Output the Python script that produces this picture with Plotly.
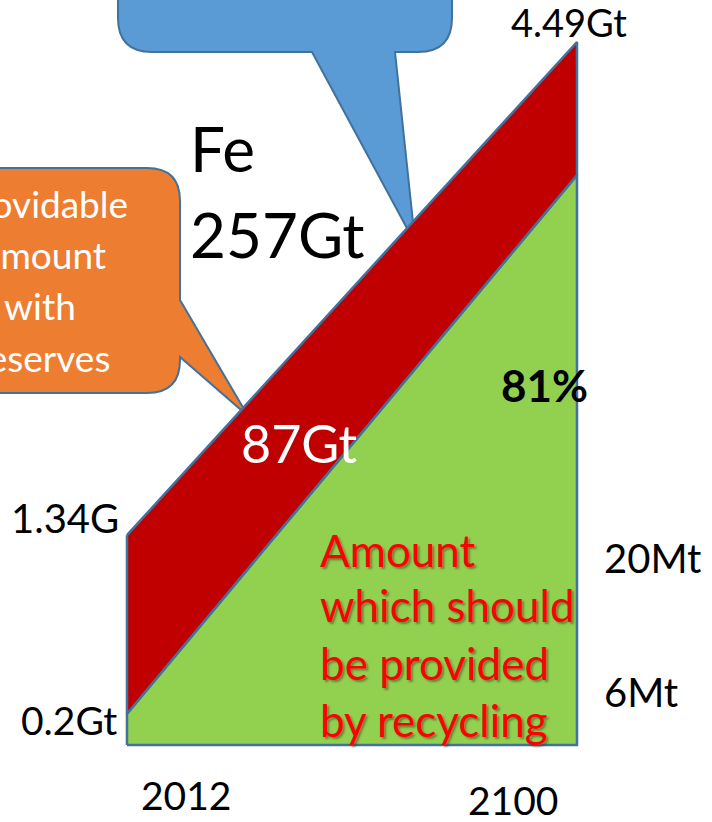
import plotly.graph_objects as go

# ---------------- data ----------------
years = [2012, 2100]
demand_gt = [1.34, 4.49]        # total iron demand edge
recycling_gt = [0.2, 3.64]      # amount to be provided by recycling (81% in 2100)
base_gt = [0.0, 0.0]

year_labels = ["2012", "2100"]
demand_labels = ["1.34G", "4.49Gt"]
recycling_labels = ["0.2Gt", "81%"]
side_labels = ["20Mt", "6Mt"]
title_lines = ["Fe", "257Gt"]
cumulative_label = "87Gt"
recycling_text = ["Amount", "which should", "be provided", "by recycling"]
reserve_text = ["Providable", "amount", "with", "reserves"]

W, H = 712, 822
FONT = "Lato"

RED = "#C00000"
GREEN = "#92D050"
BLUE = "#5B9BD5"
ORANGE = "#ED7D31"
EDGE = "#41719C"


def P(px, py):
    return f"{px / W:.5f},{1 - py / H:.5f}"


fig = go.Figure()

# green area (recycling)
fig.add_trace(go.Scatter(
    x=[years[0], years[0], years[1], years[1], years[0]],
    y=[base_gt[0], recycling_gt[0], recycling_gt[1], base_gt[1], base_gt[0]],
    mode="lines", fill="toself", fillcolor=GREEN,
    line=dict(color=EDGE, width=2.5), hoverinfo="skip", showlegend=False))

# red area (from reserves)
fig.add_trace(go.Scatter(
    x=[years[0], years[1], years[1], years[0], years[0]],
    y=[demand_gt[0], demand_gt[1], recycling_gt[1], recycling_gt[0], demand_gt[0]],
    mode="lines", fill="toself", fillcolor=RED,
    line=dict(color=EDGE, width=2.5), hoverinfo="skip", showlegend=False))

# callout shapes (decorations, below the data)
blue_path = ("M " + P(118, -40) + " L " + P(452, -40) + " L " + P(452, 18) +
             " Q " + P(452, 52) + " " + P(418, 52) + " L " + P(395, 52) +
             " L " + P(414, 232) + " L " + P(409, 232) + " L " + P(312, 52) +
             " L " + P(152, 52) + " Q " + P(118, 52) + " " + P(118, 18) + " Z")
orange_path = ("M " + P(-60, 168) + " L " + P(147, 168) + " Q " + P(180, 168) + " " + P(180, 201) +
               " L " + P(180, 300) + " L " + P(248, 416) + " L " + P(180, 357) +
               " L " + P(180, 360) + " Q " + P(180, 393) + " " + P(147, 393) +
               " L " + P(-60, 393) + " Z")
shapes = [
    dict(type="path", path=blue_path, xref="paper", yref="paper",
         fillcolor=BLUE, line=dict(color=EDGE, width=2), layer="below"),
    dict(type="path", path=orange_path, xref="paper", yref="paper",
         fillcolor=ORANGE, line=dict(color=EDGE, width=2), layer="below"),
]

annotations = []


def A(text, px, baseline, size, color="black", xanchor="center", bold=False,
      shadow=None):
    mid = baseline - 0.387 * size
    font = dict(family=FONT, size=size, color=color)
    if shadow:
        font["shadow"] = shadow
    annotations.append(dict(
        text=f"<b>{text}</b>" if bold else text,
        x=px / W, y=1 - mid / H, xref="paper", yref="paper",
        xanchor=xanchor, yanchor="middle", showarrow=False,
        font=font))


# title
A(title_lines[0], 188, 172, 62, xanchor="left")
A(title_lines[1], 188, 258, 62, xanchor="left")

# value labels
A(demand_labels[1], 569, 37, 38)
A(demand_labels[0], 121, 533, 40, xanchor="right")
A(recycling_labels[0], 69, 735, 39)
A(recycling_labels[1], 544, 402, 44, bold=True)
A(cumulative_label, 299, 463, 52, color="white")
A(side_labels[0], 652, 573, 40)
A(side_labels[1], 641, 707, 40)
A(year_labels[0], 186, 810, 39)
A(year_labels[1], 513, 815, 39)

# orange callout text (clipped at left edge)
for txt, right, bl in zip(reserve_text, [130, 108, 78, 112], [218, 269, 320, 372]):
    A(txt, right, bl, 37, color="white", xanchor="right")

# red recycling text with soft shadow
for txt, bl in zip(recycling_text, [567, 622, 680, 737]):
    A(txt, 318, bl, 44, color="#FF0000", xanchor="left",
      shadow="2px 2px 2px rgba(60,60,30,0.5)")

fig.update_layout(
    width=W, height=H, autosize=False,
    margin=dict(l=0, r=0, t=0, b=0, pad=0),
    paper_bgcolor="white", plot_bgcolor="white",
    xaxis=dict(range=[1987.17, 2126.4], visible=False, fixedrange=True),
    yaxis=dict(range=[-0.4918, 4.7583], visible=False, fixedrange=True),
    shapes=shapes, annotations=annotations, showlegend=False,
)

fig.write_html(
    "out.html",
    config={"displayModeBar": False},
    post_script="document.body.style.margin='0px';document.body.style.overflow='hidden';",
)
